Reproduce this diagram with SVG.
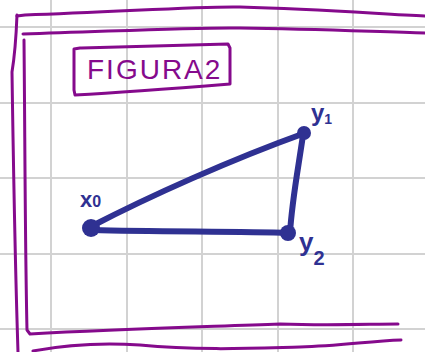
<svg xmlns="http://www.w3.org/2000/svg" width="425" height="352" viewBox="0 0 425 352">
<style>
.grid{stroke:#d2d2d2;stroke-width:2;fill:none}
.frame{stroke:#850a8c;stroke-width:3;fill:none;stroke-linecap:round;stroke-linejoin:round}
.edge{stroke:#2f3192;stroke-width:6;fill:none;stroke-linecap:round}
.dot{fill:#2f3192}
.lbl{font-family:"Liberation Sans",Arial,sans-serif;font-weight:bold;fill:#2f3192}
.title{font-family:"Liberation Sans",Arial,sans-serif;fill:#850a8c;font-size:28px;letter-spacing:2px}
</style>
<rect width="425" height="352" fill="#ffffff"/>
<g id="grid" class="grid">
<path d="M51 0V352M127 0V352M202 0V352M278 0V352M353 0V352"/>
<path d="M0 27H425M0 103H425M0 178H425M0 254H425M0 329H425"/>
</g>
<g id="frame" class="frame">
<path d="M17 16 L25 15 C120 12 200 6 240 7 C320 9 380 14 425 16"/>
<path d="M17 15 C16 40 14 60 12 72 C13 140 15 260 18 352"/>
<path d="M23 34 C120 31 200 27 240 28 C320 29 380 32 425 33"/>
<path d="M24 40 C25 140 25 240 27 330 L30 334 C120 329 200 327 280 324 C330 326 370 324 398 324"/>
<path d="M33 351 C70 344 110 343 140 345 C200 351 260 348 300 347 C340 346 370 341 401 340"/>
</g>
<g id="title">
<path class="frame" d="M74 49 L80 48 C130 47 180 45 228 44 L230 48 L230 84 C180 88 130 92 75 95 L74 90 Z"/>
<text class="title" x="87" y="79">FIGURA2</text>
</g>
<g id="connectors">
<path class="edge" d="M92 226 C150 196 230 160 305 133"/>
<path class="edge" d="M92 230 C160 232 240 231 289 233"/>
<path class="edge" d="M303 135 C298 170 292 200 290 233"/>
</g>
<g id="x0">
<circle class="dot" cx="91" cy="228" r="9"/>
<text class="lbl" x="80" y="207" font-size="22">x<tspan font-size="16" dy="0">0</tspan></text>
</g>
<g id="y1">
<circle class="dot" cx="304" cy="133" r="7"/>
<text class="lbl" x="311" y="121" font-size="24">y<tspan font-size="14" dy="3">1</tspan></text>
</g>
<g id="y2">
<circle class="dot" cx="288" cy="233" r="8"/>
<text class="lbl" x="299" y="251" font-size="26">y<tspan font-size="20" dy="14">2</tspan></text>
</g>
</svg>
